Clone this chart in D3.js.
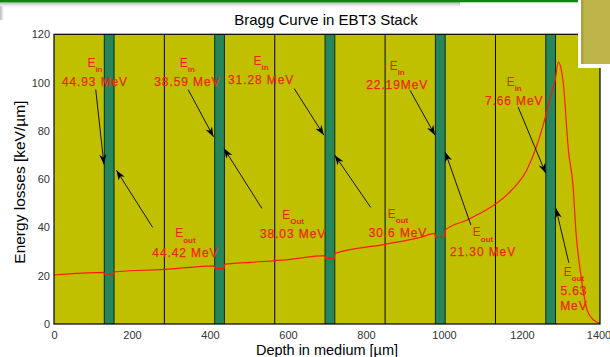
<!DOCTYPE html>
<html>
<head>
<meta charset="utf-8">
<script src="https://cdn.jsdelivr.net/npm/d3@7"></script>
<style>
  html, body { margin: 0; padding: 0; background: #ffffff; }
  svg { display: block; }
  text { font-family: "Liberation Sans", Arial, sans-serif; }
</style>
</head>
<body>
<script>
// ---- data ----------------------------------------------------------------
// Axis ticks
const depthTicks  = [0, 200, 400, 600, 800, 1000, 1200, 1400];
const energyTicks = [0, 20, 40, 60, 80, 100, 120];

// Boundaries between consecutive EBT3 films [µm]
const filmBoundaries = [283, 566, 849, 1132];
// Active layer of each film [start, end] in µm
const activeLayers = [[129, 154], [412, 437], [695, 720], [978, 1003], [1261, 1286]];

// Stopping power along the stack: depth [µm], energy loss [keV/µm]
const braggDepth = [0, 128, 129, 153, 154, 283, 411, 412, 436, 437, 502, 600, 695, 696,
  719, 720, 849, 940, 977, 978, 1002, 1003, 1058, 1100, 1135, 1173, 1212, 1237, 1260,
  1273, 1285, 1293, 1300, 1306, 1319, 1331, 1338, 1353, 1367, 1383, 1400];
const braggLoss = [20.3, 21.4, 20.6, 20.6, 21.6, 22.6, 24.1, 22.9, 22.9, 24.7, 25.5, 26.7, 28.3, 27.2,
  27.2, 29.2, 33.0, 35.9, 37.5, 35.9, 35.9, 38.9, 43.0, 46.5, 50.0, 55.4, 63.7, 73.4, 85.8,
  94.0, 101.0, 108.5, 106.0, 99.6, 72.0, 57.0, 39.0, 18.2, 5.8, 1.7, 0.3];

// Proton energy entering / leaving each active layer
const energyIn  = ["44.93 MeV", "38.59 MeV", "31.28 MeV", "22.19MeV", "7.66 MeV"];
const energyOut = ["44.42 MeV", "38.03 MeV", "30.6 MeV", "21.30 MeV", "5.63|MeV"];
const outSubs   = ["out", "Out", "out", "out", "out"];

// Label anchors (depth µm, energy keV/µm) and arrow tail/tip for each layer
const inLabelAt  = [[105, 98.5], [342, 98.5], [531, 99.3], [880, 97.3], [1180, 90.6]];
const inArrowFrom = [[107, 97.1], [344, 97.1], [616, 97.5], [913, 96.8], [1190, 89.9]];
const inArrowTo   = [[128, 66.1], [409, 77.5], [692, 78.2], [977, 78.2], [1261, 62.4]];
const outLabelAt  = [[337, 27.9], [613, 35.5], [882, 35.9], [1100, 28.2], [1333, 11.9]];
const outArrowFrom = [[253, 40.0], [533, 47.9], [812, 48.3], [1069, 41.0], [1320, 25.4]];
const outArrowTo   = [[160, 63.7], [436, 72.7], [720, 69.9], [1003, 71.3], [1287, 47.9]];

const chartTitle = "Bragg Curve in EBT3 Stack";
const xTitle = "Depth in medium [µm]";
const yTitle = "Energy losses [keV/µm]";

// ---- layout ----------------------------------------------------------------
const W = 610, H = 357;
const plot = { left: 54, top: 34.3, right: 600, bottom: 324 };

const svg = d3.select("body").append("svg").attr("width", W).attr("height", H);

const x = d3.scaleLinear().domain([0, 1400]).range([plot.left, plot.right]);
const y = d3.scaleLinear().domain([0, 120]).range([plot.bottom, plot.top]);

const defs = svg.append("defs");
const fadeV = defs.append("linearGradient").attr("id", "fadeV").attr("x1", 0).attr("x2", 0).attr("y1", 0).attr("y2", 1);
fadeV.append("stop").attr("offset", 0).attr("stop-color", "#b4b4b4");
fadeV.append("stop").attr("offset", 1).attr("stop-color", "#ffffff");
const fadeH = defs.append("linearGradient").attr("id", "fadeH").attr("x1", 0).attr("x2", 1).attr("y1", 0).attr("y2", 0);
fadeH.append("stop").attr("offset", 0).attr("stop-color", "#bcbcbc");
fadeH.append("stop").attr("offset", 1).attr("stop-color", "#ffffff");

// slide frame: green rule with a soft shadow
svg.append("rect").attr("x", 0).attr("y", 2).attr("width", 460).attr("height", 5).attr("fill", "url(#fadeV)");
svg.append("rect").attr("x", 0).attr("y", 6).attr("width", 4).attr("height", 14).attr("fill", "url(#fadeH)");
svg.append("rect").attr("x", 0).attr("y", 0).attr("width", 578).attr("height", 2.3).attr("fill", "#078a0a");

// plot background
svg.append("rect")
  .attr("x", plot.left).attr("y", plot.top)
  .attr("width", plot.right - plot.left).attr("height", plot.bottom - plot.top)
  .attr("fill", "#c0c000");

// film boundaries
svg.append("g").selectAll("line").data(filmBoundaries).join("line")
  .attr("x1", d => x(d)).attr("x2", d => x(d))
  .attr("y1", plot.top).attr("y2", plot.bottom)
  .attr("stroke", "#000").attr("stroke-width", 1);

// active layers
const layerG = svg.append("g");
layerG.selectAll("rect").data(activeLayers).join("rect")
  .attr("x", d => x(d[0])).attr("y", plot.top)
  .attr("width", d => x(d[1]) - x(d[0])).attr("height", plot.bottom - plot.top)
  .attr("fill", "#26865a");
layerG.selectAll("line.l").data(activeLayers.flat()).join("line")
  .attr("class", "l")
  .attr("x1", d => x(d)).attr("x2", d => x(d))
  .attr("y1", plot.top).attr("y2", plot.bottom)
  .attr("stroke", "#0d2a18").attr("stroke-width", 1);

// Bragg curve
const braggPts = braggDepth.map((d, i) => [d, braggLoss[i]]);
svg.append("path")
  .datum(braggPts)
  .attr("d", d3.line().x(d => x(d[0])).y(d => y(d[1])).curve(d3.curveMonotoneX))
  .attr("fill", "none")
  .attr("stroke", "#ff1a00")
  .attr("stroke-width", 1.2);

// frame
svg.append("rect")
  .attr("x", plot.left).attr("y", plot.top)
  .attr("width", plot.right - plot.left).attr("height", plot.bottom - plot.top)
  .attr("fill", "none").attr("stroke", "#000").attr("stroke-width", 1.2);

// axes
const xAxis = svg.append("g").attr("transform", `translate(0,${plot.bottom})`)
  .call(d3.axisBottom(x).tickValues(depthTicks).tickSize(0).tickPadding(7).tickFormat(d3.format("d")));
const yAxis = svg.append("g").attr("transform", `translate(${plot.left},0)`)
  .call(d3.axisLeft(y).tickValues(energyTicks).tickSize(0).tickPadding(4).tickFormat(d3.format("d")));
[xAxis, yAxis].forEach(g => {
  g.select(".domain").remove();
  g.selectAll("text").attr("font-size", 11).attr("fill", "#333")
    .attr("font-family", "'Liberation Sans', Arial, sans-serif");
});
// keep the last depth label inside the window
xAxis.selectAll(".tick").filter(d => d === 1400).select("text").attr("dx", -1.5);

// titles
svg.append("text").attr("x", 326).attr("y", 25).attr("text-anchor", "middle")
  .attr("font-size", 15).attr("fill", "#000").text(chartTitle);
svg.append("text").attr("x", 327).attr("y", 355).attr("text-anchor", "middle")
  .attr("font-size", 14.5).attr("fill", "#000").text(xTitle);
svg.append("text").attr("transform", `translate(25,${(plot.top + plot.bottom) / 2 + 3}) rotate(-90)`)
  .attr("text-anchor", "middle").attr("font-size", 15.5).attr("fill", "#000").text(yTitle);

// arrows
function arrow(from, to) {
  const x0 = x(from[0]), y0 = y(from[1]), x1 = x(to[0]), y1 = y(to[1]);
  const ang = Math.atan2(y1 - y0, x1 - x0) * 180 / Math.PI;
  svg.append("line").attr("x1", x0).attr("y1", y0).attr("x2", x1).attr("y2", y1)
    .attr("stroke", "#000").attr("stroke-width", 0.9);
  svg.append("path").attr("d", "M0,0 L-10,-3.6 L-7,0 L-10,3.6 Z")
    .attr("transform", `translate(${x1},${y1}) rotate(${ang})`)
    .attr("fill", "#000");
}
inArrowFrom.forEach((f, i) => arrow(f, inArrowTo[i]));
outArrowFrom.forEach((f, i) => arrow(f, outArrowTo[i]));

// energy labels
const red = "#e8280a";
function energyLabel(at, sub, value) {
  const cx = x(at[0]), by = y(at[1]);
  const lines = value.split("|");
  const t = svg.append("text").attr("x", cx).attr("y", by - 19.5).attr("text-anchor", "middle")
    .attr("fill", red).attr("font-size", 12);
  t.append("tspan").text("E");
  t.append("tspan").attr("dy", 5.5).attr("font-size", 8).attr("font-weight", "bold").text(sub);
  lines.forEach((ln, k) => {
    svg.append("text").attr("x", cx).attr("y", by + k * 14.3).attr("text-anchor", "middle")
      .attr("fill", red).attr("stroke", red).attr("stroke-width", 0.25)
      .attr("font-size", 12).attr("letter-spacing", 0.9).text(ln);
  });
}
energyIn.forEach((v, i) => energyLabel(inLabelAt[i], "in", v));
energyOut.forEach((v, i) => energyLabel(outLabelAt[i], outSubs[i], v));

// inset thumbnail in the corner of the slide
svg.append("rect").attr("x", 578).attr("y", 0).attr("width", 32).attr("height", 68).attr("fill", "#ffffff");
svg.append("rect").attr("x", 581).attr("y", 0).attr("width", 29).attr("height", 64).attr("fill", "#bdb54a");
svg.append("rect").attr("x", 581).attr("y", 0).attr("width", 2.5).attr("height", 64).attr("fill", "#aaa23c");
</script>
</body>
</html>
